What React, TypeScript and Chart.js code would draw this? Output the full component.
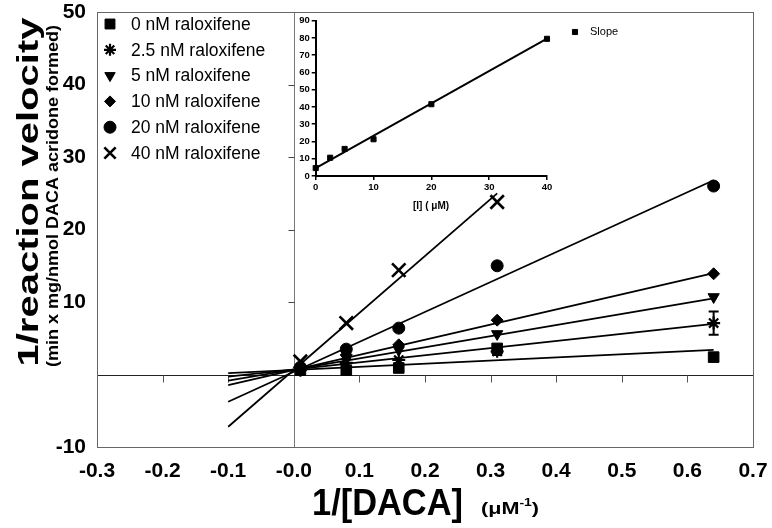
import React, { useEffect, useRef } from 'react';
import { Chart, registerables } from 'chart.js';
import { drawPoint } from 'chart.js/helpers';

Chart.register(...registerables);

const FONT = "Arial, 'Liberation Sans', Helvetica, sans-serif";

// ---------- main plot data ----------
const xInvDaca = [0.01, 0.08, 0.16, 0.31, 0.64];
const seriesLabels = [
  '0 nM raloxifene',
  '2.5 nM raloxifene',
  '5 nM raloxifene',
  '10 nM raloxifene',
  '20 nM raloxifene',
  '40 nM raloxifene',
];
const v0nM = [0.6, 0.6, 0.9, 3.6, 2.4];
const v2_5nM = [0.6, 1.6, 2.0, 3.2, 7.1];
const v5nM = [0.7, 2.3, 3.4, 5.6, 10.7];
const v10nM = [0.8, 2.7, 4.1, 7.5, 13.9];
const v20nM = [1.0, 3.5, 6.4, 15.0, 26.0];
const v40nM = [1.8, 7.1, 14.4, 23.8];
const err2_5nM = [0, 0, 0, 0.5, 1.6];

// fitted lines: start at x = -0.1
const fitStartX = -0.1;
const fitStartY = [0.2, -0.3, -0.85, -1.45, -3.75, -7.2];
const fitEndX = [0.64, 0.64, 0.64, 0.64, 0.64, 0.31];
const fitEndY = [3.4, 7.0, 10.5, 14.0, 26.8, 25.0];

const xTicks = [-0.3, -0.2, -0.1, 0, 0.1, 0.2, 0.3, 0.4, 0.5, 0.6, 0.7];
const xTickLabels = ['-0.3', '-0.2', '-0.1', '-0.0', '0.1', '0.2', '0.3', '0.4', '0.5', '0.6', '0.7'];
const yTicks = [-10, 0, 10, 20, 30, 40, 50];
const yTickLabels = ['-10', '', '10', '20', '30', '40', '50'];
const zeroLineXTicks = [-0.2, -0.1, 0.1, 0.2, 0.3, 0.4, 0.5, 0.6];
const zeroLineYTicks = [10, 20, 30, 40];

// ---------- inset data ----------
const insetConc = [0, 2.5, 5, 10, 20, 40];
const insetSlope = [4.6, 10.6, 15.7, 21.3, 41.6, 79.5];
const insetFitX = [0, 40];
const insetFitY = [4.6, 79.6];
const insetXTicks = [0, 10, 20, 30, 40];
const insetYTicks = [0, 10, 20, 30, 40, 50, 60, 70, 80, 90];
const insetLegendLabel = 'Slope';

const allSeries = [v0nM, v2_5nM, v5nM, v10nM, v20nM, v40nM];
const seriesErrors = [null, err2_5nM, null, null, null, null];

// styles
const pointStyles = ['rect', 'star', 'triangle', 'rectRot', 'circle', 'crossRot'];
const pointRotations = [0, 0, 180, 0, 0, 0];
const pointRadii = [7.5, 6.5, 6.5, 6, 6, 9.5];
const pointBorders = [1, 2.2, 1, 1, 1, 2.6];
const legendRadii = [7, 6, 6, 5.5, 6, 8];

function zeroPadding(s) {
  s.paddingLeft = 0;
  s.paddingRight = 0;
  s.paddingTop = 0;
  s.paddingBottom = 0;
}

function drawStretched(ctx, text, x, y, rotate, font, targetLen, align = 'center') {
  ctx.save();
  ctx.font = font;
  ctx.fillStyle = '#000';
  ctx.textAlign = align;
  ctx.textBaseline = 'alphabetic';
  ctx.translate(x, y);
  if (rotate) ctx.rotate(-Math.PI / 2);
  const w = ctx.measureText(text).width;
  const sx = targetLen ? targetLen / w : 1;
  ctx.scale(sx, 1);
  ctx.fillText(text, 0, 0);
  ctx.restore();
}

const mainPlugin = {
  id: 'mainDecor',
  beforeDatasetsDraw(chart) {
    const { ctx, chartArea: a, scales } = chart;
    const xs = scales.x;
    const ys = scales.y;
    const x0 = Math.round(xs.getPixelForValue(0)) + 0.5;
    const y0 = Math.round(ys.getPixelForValue(0)) + 0.5;
    ctx.save();
    ctx.lineWidth = 1;
    // vertical zero line
    ctx.strokeStyle = '#777';
    ctx.beginPath();
    ctx.moveTo(x0, a.top);
    ctx.lineTo(x0, a.bottom);
    ctx.stroke();
    ctx.strokeStyle = '#444';
    zeroLineYTicks.forEach((v) => {
      const py = Math.round(ys.getPixelForValue(v)) + 0.5;
      ctx.beginPath();
      ctx.moveTo(x0, py);
      ctx.lineTo(x0 - 6, py);
      ctx.stroke();
    });
    // horizontal zero line
    ctx.strokeStyle = '#222';
    ctx.beginPath();
    ctx.moveTo(a.left, y0);
    ctx.lineTo(a.right, y0);
    ctx.stroke();
    ctx.strokeStyle = '#555';
    zeroLineXTicks.forEach((v) => {
      const px = Math.round(xs.getPixelForValue(v)) + 0.5;
      ctx.beginPath();
      ctx.moveTo(px, y0);
      ctx.lineTo(px, y0 + 7);
      ctx.stroke();
    });
    // frame
    ctx.strokeStyle = '#666';
    ctx.strokeRect(Math.round(a.left) + 0.5, Math.round(a.top) + 0.5, Math.round(a.right - a.left), Math.round(a.bottom - a.top));
    ctx.restore();
  },
  afterDatasetsDraw(chart) {
    const { ctx, scales } = chart;
    const xs = scales.x;
    const ys = scales.y;
    ctx.save();
    ctx.strokeStyle = '#000';
    ctx.lineWidth = 2;
    seriesErrors.forEach((errs, i) => {
      if (!errs) return;
      errs.forEach((e, j) => {
        if (!e) return;
        const px = xs.getPixelForValue(xInvDaca[j]);
        const pTop = ys.getPixelForValue(allSeries[i][j] + e);
        const pBot = ys.getPixelForValue(allSeries[i][j] - e);
        ctx.beginPath();
        ctx.moveTo(px, pTop);
        ctx.lineTo(px, pBot);
        ctx.moveTo(px - 5, pTop);
        ctx.lineTo(px + 5, pTop);
        ctx.moveTo(px - 5, pBot);
        ctx.lineTo(px + 5, pBot);
        ctx.stroke();
      });
    });
    ctx.restore();
  },
  afterDraw(chart) {
    const { ctx } = chart;
    // legend
    ctx.save();
    seriesLabels.forEach((label, i) => {
      const y = 24 + i * 25.8;
      ctx.fillStyle = '#000';
      ctx.strokeStyle = '#000';
      ctx.lineWidth = pointBorders[i];
      drawPoint(ctx, { pointStyle: pointStyles[i], rotation: pointRotations[i], radius: legendRadii[i], borderWidth: pointBorders[i] }, 110, y);
      ctx.font = `17.5px ${FONT}`;
      ctx.textAlign = 'left';
      ctx.textBaseline = 'middle';
      ctx.fillText(label, 131, y + 1);
    });
    ctx.restore();
    // axis titles
    drawStretched(ctx, '1/reaction velocity', 38, 192, true, `bold 30px ${FONT}`, 349);
    drawStretched(ctx, '(min x mg/nmol DACA acridone formed)', 58, 196, true, `bold 16px ${FONT}`, 342);
    drawStretched(ctx, '1/[DACA]', 387.5, 515, false, `bold 36px ${FONT}`, 151);
    // unit with superscript
    ctx.save();
    ctx.fillStyle = '#000';
    ctx.textBaseline = 'alphabetic';
    ctx.textAlign = 'left';
    const base = 'bold 17px ' + FONT;
    const sup = 'bold 11px ' + FONT;
    ctx.font = base;
    const w1 = ctx.measureText('(\u03bcM').width;
    const w3 = ctx.measureText(')').width;
    ctx.font = sup;
    const w2 = ctx.measureText('-1').width;
    const total = w1 + w2 + w3;
    const sx = 58 / total;
    ctx.translate(481, 514);
    ctx.scale(sx, 1);
    ctx.font = base;
    ctx.fillText('(\u03bcM', 0, 0);
    ctx.font = sup;
    ctx.fillText('-1', w1, -8);
    ctx.font = base;
    ctx.fillText(')', w1 + w2, 0);
    ctx.restore();
  },
};

const INSET_LEFT = 290;
const INSET_TOP = 12;
const INSET_W = 340;
const INSET_H = 205;

const insetPlugin = {
  id: 'insetDecor',
  afterDraw(chart) {
    const { ctx } = chart;
    ctx.save();
    ctx.fillStyle = '#000';
    ctx.strokeStyle = '#000';
    ctx.lineWidth = 1;
    drawPoint(ctx, { pointStyle: 'rect', rotation: 0, radius: 3.6, borderWidth: 1 }, 575 - INSET_LEFT, 32 - INSET_TOP);
    ctx.font = `11px ${FONT}`;
    ctx.textAlign = 'left';
    ctx.textBaseline = 'middle';
    ctx.fillText(insetLegendLabel, 590 - INSET_LEFT, 32 - INSET_TOP);
    ctx.font = `bold 10px ${FONT}`;
    ctx.textAlign = 'center';
    ctx.textBaseline = 'middle';
    ctx.fillText('[I] ( \u03bcM)', 431 - INSET_LEFT, 206 - INSET_TOP);
    ctx.restore();
  },
};

function MainChart() {
  const ref = useRef(null);
  useEffect(() => {
    const pointSets = allSeries.map((vals, i) => ({
      label: seriesLabels[i],
      data: vals.map((v, j) => ({ x: xInvDaca[j], y: v })),
      showLine: false,
      pointStyle: pointStyles[i],
      pointRotation: pointRotations[i],
      pointRadius: pointRadii[i],
      pointBorderWidth: pointBorders[i],
      backgroundColor: '#000',
      borderColor: '#000',
      clip: false,
    }));
    const lineSets = fitStartY.map((sy, i) => ({
      label: seriesLabels[i] + ' fit',
      data: [
        { x: fitStartX, y: sy },
        { x: fitEndX[i], y: fitEndY[i] },
      ],
      showLine: true,
      pointRadius: 0,
      borderWidth: 1.8,
      borderColor: '#000',
      backgroundColor: '#000',
    }));
    const chart = new Chart(ref.current, {
      type: 'scatter',
      data: { datasets: [...pointSets, ...lineSets] },
      options: {
        animation: false,
        responsive: false,
        events: [],
        layout: { padding: { left: 0, top: 12, right: 19, bottom: 0 } },
        plugins: { legend: { display: false }, tooltip: { enabled: false } },
        scales: {
          x: {
            type: 'linear',
            min: -0.3,
            max: 0.7,
            afterBuildTicks: (s) => {
              s.ticks = xTicks.map((v) => ({ value: v }));
            },
            afterFit: (s) => {
              s.height = 81;
              zeroPadding(s);
            },
            ticks: {
              callback: (v, i) => xTickLabels[i],
              font: { family: FONT, size: 21, weight: 'bold' },
              color: '#000',
              padding: 12,
              maxRotation: 0,
              autoSkip: false,
            },
            grid: { display: false, drawTicks: false },
            border: { display: false },
          },
          y: {
            type: 'linear',
            min: -10,
            max: 50,
            afterBuildTicks: (s) => {
              s.ticks = yTicks.map((v) => ({ value: v }));
            },
            afterFit: (s) => {
              s.width = 97;
              zeroPadding(s);
            },
            ticks: {
              callback: (v, i) => yTickLabels[i],
              font: { family: FONT, size: 21, weight: 'bold' },
              color: '#000',
              padding: 11,
              autoSkip: false,
            },
            grid: { display: false, drawTicks: false },
            border: { display: false },
          },
        },
      },
      plugins: [mainPlugin],
    });
    return () => chart.destroy();
  }, []);
  return <canvas ref={ref} width={772} height={528} style={{ position: 'absolute', left: 0, top: 0, display: 'block' }} />;
}

function InsetChart() {
  const ref = useRef(null);
  useEffect(() => {
    const chart = new Chart(ref.current, {
      type: 'scatter',
      data: {
        datasets: [
          {
            label: insetLegendLabel,
            data: insetConc.map((c, j) => ({ x: c, y: insetSlope[j] })),
            showLine: false,
            pointStyle: 'rect',
            pointRadius: 3.6,
            pointBorderWidth: 1,
            backgroundColor: '#000',
            borderColor: '#000',
            clip: false,
          },
          {
            label: 'fit',
            data: insetFitX.map((c, j) => ({ x: c, y: insetFitY[j] })),
            showLine: true,
            pointRadius: 0,
            borderWidth: 2,
            borderColor: '#000',
          },
        ],
      },
      options: {
        animation: false,
        responsive: false,
        events: [],
        layout: { padding: { left: 0, top: 8.7, right: INSET_W - 257, bottom: 0 } },
        plugins: { legend: { display: false }, tooltip: { enabled: false } },
        scales: {
          x: {
            type: 'linear',
            min: 0,
            max: 40,
            afterBuildTicks: (s) => {
              s.ticks = insetXTicks.map((v) => ({ value: v }));
            },
            afterFit: (s) => {
              s.height = INSET_H - 164;
              zeroPadding(s);
            },
            ticks: {
              callback: (v) => String(v),
              font: { family: FONT, size: 9.5, weight: 'bold' },
              color: '#000',
              padding: 2,
              maxRotation: 0,
              autoSkip: false,
            },
            grid: { display: true, drawOnChartArea: false, drawTicks: true, tickLength: 4, lineWidth: 1.5, color: '#000' },
            border: { display: true, width: 2, color: '#000' },
          },
          y: {
            type: 'linear',
            min: 0,
            max: 90,
            afterBuildTicks: (s) => {
              s.ticks = insetYTicks.map((v) => ({ value: v }));
            },
            afterFit: (s) => {
              s.width = 25.7;
              zeroPadding(s);
            },
            ticks: {
              callback: (v) => String(v),
              font: { family: FONT, size: 9.5, weight: 'bold' },
              color: '#000',
              padding: 2,
              autoSkip: false,
            },
            grid: { display: true, drawOnChartArea: false, drawTicks: true, tickLength: 4, lineWidth: 1.5, color: '#000' },
            border: { display: true, width: 2, color: '#000' },
          },
        },
      },
      plugins: [insetPlugin],
    });
    return () => chart.destroy();
  }, []);
  return (
    <canvas
      ref={ref}
      width={INSET_W}
      height={INSET_H}
      style={{ position: 'absolute', left: INSET_LEFT, top: INSET_TOP, display: 'block' }}
    />
  );
}

export default function App() {
  return (
    <div style={{ position: 'fixed', left: 0, top: 0, width: 772, height: 528, background: '#fff', overflow: 'hidden' }}>
      <MainChart />
      <InsetChart />
    </div>
  );
}
